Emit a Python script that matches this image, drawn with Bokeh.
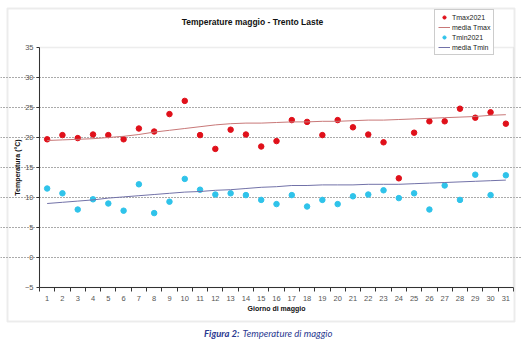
from bokeh.plotting import figure
from bokeh.models import (ColumnDataSource, FixedTicker, Label, BoxAnnotation, Legend, LegendItem, Range1d)
from bokeh.embed import file_html
from bokeh.resources import INLINE

days = list(range(1, 32))
tmax_2021 = [19.7, 20.4, 19.9, 20.5, 20.4, 19.7, 21.5, 21.0, 23.9, 26.1, 20.4, 18.1, 21.3, 20.5, 18.5,
             19.4, 22.9, 22.6, 20.4, 22.9, 21.7, 20.5, 19.2, 13.2, 20.8, 22.7, 22.7, 24.8, 23.3, 24.2, 22.3]
media_tmax = [19.5, 19.6, 19.7, 19.8, 20.0, 20.2, 20.5, 20.9, 21.2, 21.5, 21.8, 22.1, 22.3, 22.4, 22.4,
              22.5, 22.6, 22.6, 22.7, 22.7, 22.8, 22.9, 22.9, 23.0, 23.1, 23.2, 23.3, 23.4, 23.5, 23.7, 23.8]
tmin_2021 = [11.5, 10.7, 8.0, 9.7, 9.0, 7.8, 12.2, 7.4, 9.3, 13.1, 11.3, 10.5, 10.7, 10.4, 9.6,
             8.9, 10.4, 8.5, 9.6, 8.9, 10.2, 10.5, 11.2, 9.9, 10.7, 8.0, 12.0, 9.6, 13.8, 10.4, 13.7]
media_tmin = [9.0, 9.2, 9.4, 9.6, 9.9, 10.1, 10.3, 10.5, 10.7, 10.9, 11.0, 11.2, 11.3, 11.5, 11.7,
              11.8, 12.0, 12.0, 12.1, 12.1, 12.1, 12.2, 12.2, 12.2, 12.3, 12.4, 12.5, 12.6, 12.7, 12.8, 12.9]
y_ticks = [-5, 0, 5, 10, 15, 20, 25, 30, 35]
grid_ticks = [0, 5, 10, 15, 20, 25, 30]

src = ColumnDataSource(dict(day=days, tmax=tmax_2021, mtmax=media_tmax, tmin=tmin_2021, mtmin=media_tmin))

FONT = "Liberation Sans"
W, H = 522, 353
# plot area in canvas pixels: x 39..513, y 47..287 ; frame = whole canvas
PX_L, PX_R, PY_T, PY_B = 39.0, 513.0, 47.0, 287.0
XMIN, XMAX, YMIN, YMAX = 0.5, 31.5, -5.0, 35.0
sx = (PX_R - PX_L) / (XMAX - XMIN)
sy = (PY_B - PY_T) / (YMAX - YMIN)
x_range = Range1d(XMIN - PX_L / sx, XMAX + (W - PX_R) / sx)
y_range = Range1d(YMIN - (H - PY_B) / sy, YMAX + PY_T / sy)

p = figure(width=W, height=H, output_backend="svg", toolbar_location=None,
           x_range=x_range, y_range=y_range)
p.min_border = 0
p.min_border_left = 0
p.min_border_right = 0
p.min_border_top = 0
p.min_border_bottom = 0
p.background_fill_color = "white"
p.border_fill_color = "white"
p.outline_line_color = None

# plot-area border (light grey top/right)
p.add_layout(BoxAnnotation(left=XMIN, right=XMAX, bottom=YMIN, top=YMAX, fill_alpha=0,
                           line_color="#c4c4c4", line_width=1.5, level="underlay"))

# axes
xa = p.xaxis[0]
xa.fixed_location = YMIN
xa.bounds = (XMIN, XMAX)
xa.ticker = FixedTicker(ticks=days, minor_ticks=[d + 0.5 for d in range(0, 32)])
xa.major_tick_line_color = None
xa.minor_tick_line_color = "#333333"
xa.minor_tick_out = 4
xa.minor_tick_in = 0
xa.axis_line_color = "#333333"
xa.major_label_text_font = FONT
xa.major_label_text_font_size = "7.5px"
xa.major_label_text_color = "#555555"
xa.major_label_standoff = 2
xa.axis_label = "Giorno di maggio"
xa.axis_label_text_font = FONT
xa.axis_label_text_font_style = "bold"
xa.axis_label_text_font_size = "7px"
xa.axis_label_text_color = "#111111"
xa.axis_label_standoff = 1

ya = p.yaxis[0]
ya.fixed_location = XMIN
ya.bounds = (YMIN, YMAX)
ya.ticker = FixedTicker(ticks=y_ticks)
ya.minor_tick_line_color = None
ya.major_tick_line_color = "#333333"
ya.major_tick_out = 3
ya.major_tick_in = 0
ya.axis_line_color = "#333333"
ya.major_label_text_font = FONT
ya.major_label_text_font_size = "7.5px"
ya.major_label_text_color = "#555555"
ya.major_label_standoff = 3
ya.axis_label = "Temperatura (°C)"
ya.axis_label_text_font = FONT
ya.axis_label_text_font_style = "bold"
ya.axis_label_text_font_size = "7px"
ya.axis_label_text_color = "#111111"
ya.axis_label_standoff = 1

p.xgrid.grid_line_color = None
p.ygrid.ticker = FixedTicker(ticks=grid_ticks)
p.ygrid.bounds = (XMIN, XMAX)
p.ygrid.grid_line_color = "#555555"
p.ygrid.grid_line_dash = "1 2"
p.ygrid.grid_line_width = 1

# data
r_tmax = p.scatter("day", "tmax", source=src, size=5.5, color="#e0101a")
r_mtmax = p.line("day", "mtmax", source=src, line_color="#c87878", line_width=1)
r_tmin = p.scatter("day", "tmin", source=src, size=5.5, color="#2fc3ea")
r_mtmin = p.line("day", "mtmin", source=src, line_color="#7272a8", line_width=1)

legend = Legend(items=[
    LegendItem(label="Tmax2021", renderers=[r_tmax]),
    LegendItem(label="media Tmax", renderers=[r_mtmax]),
    LegendItem(label="Tmin2021", renderers=[r_tmin]),
    LegendItem(label="media Tmin", renderers=[r_mtmin]),
], location=(434, H - 55))
legend.label_text_font = FONT
legend.label_text_font_size = "7px"
legend.label_text_color = "#222222"
legend.label_height = 8
legend.label_standoff = 2
legend.glyph_height = 8
legend.glyph_width = 12
legend.spacing = 2
legend.padding = 3
legend.margin = 0
legend.border_line_color = "#999999"
legend.border_line_width = 1
legend.background_fill_color = "white"
legend.background_fill_alpha = 1
p.add_layout(legend, "center")

# outer chart frame
p.add_layout(BoxAnnotation(left=7, right=514, top=8, bottom=321,
                           left_units="canvas", right_units="canvas", top_units="canvas", bottom_units="canvas",
                           fill_alpha=0, line_color="#c0c0c0", line_width=2))

# texts
p.add_layout(Label(x=252, y=21, x_units="canvas", y_units="canvas", text="Temperature maggio - Trento Laste",
                   text_font=FONT, text_font_style="bold", text_font_size="8.5px", text_color="#111111",
                   text_align="center", text_baseline="middle"))
p.add_layout(Label(x=239, y=333, x_units="canvas", y_units="canvas", text="Figura 2:",
                   text_font="Lato", text_font_style="bold italic", text_font_size="9.5px", text_color="#2b3990",
                   text_align="right", text_baseline="middle"))
p.add_layout(Label(x=242, y=333, x_units="canvas", y_units="canvas", text="Temperature di maggio",
                   text_font="Lato", text_font_style="italic", text_font_size="9.5px", text_color="#2b3990",
                   text_align="left", text_baseline="middle"))

open("out.html", "w").write(file_html(p, INLINE))
